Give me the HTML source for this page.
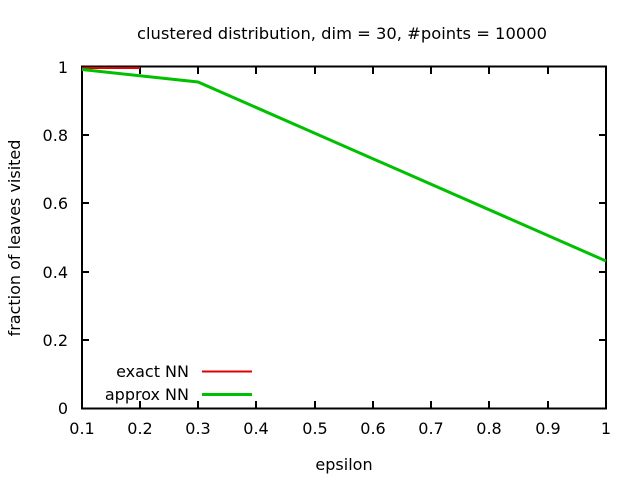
<!DOCTYPE html>
<html><head><style>
html,body{margin:0;padding:0;background:#fff;}
svg{display:block;}
text{font-family:"DejaVu Sans",sans-serif;font-size:16px;fill:#000;}
</style></head><body>
<svg width="640" height="480" xmlns="http://www.w3.org/2000/svg">
<rect width="640" height="480" fill="#fff"/>
<text x="342" y="39" text-anchor="middle" textLength="410" lengthAdjust="spacingAndGlyphs">clustered distribution, dim = 30, #points = 10000</text>
<g stroke="#000" stroke-width="2" fill="none">
<rect x="82" y="66.5" width="524" height="342"/>
<path d="M140,408v-7M140,67v7M198,408v-7M198,67v7M256,408v-7M256,67v7M315,408v-7M315,67v7M373,408v-7M373,67v7M431,408v-7M431,67v7M489,408v-7M489,67v7M548,408v-7M548,67v7"/>
<path d="M82,340h7M606,340h-7M82,272h7M606,272h-7M82,203h7M606,203h-7M82,135h7M606,135h-7"/>
</g>
<g text-anchor="end">
<text x="68" y="414">0</text>
<text x="68" y="346">0.2</text>
<text x="68" y="278">0.4</text>
<text x="68" y="209">0.6</text>
<text x="68" y="141">0.8</text>
<text x="68" y="73">1</text>
</g>
<g text-anchor="middle">
<text x="82" y="434">0.1</text>
<text x="140" y="434">0.2</text>
<text x="198" y="434">0.3</text>
<text x="256" y="434">0.4</text>
<text x="315" y="434">0.5</text>
<text x="373" y="434">0.6</text>
<text x="431" y="434">0.7</text>
<text x="489" y="434">0.8</text>
<text x="548" y="434">0.9</text>
<text x="606" y="434">1</text>
<text x="344" y="470">epsilon</text>
</g>
<text transform="translate(20,238) rotate(-90)" text-anchor="middle">fraction of leaves visited</text>
<text x="189" y="377" text-anchor="end">exact NN</text>
<text x="189" y="400" text-anchor="end">approx NN</text>
<path d="M202,371.5H252" stroke="#e00000" stroke-width="2"/>
<path d="M202,394.5H252" stroke="#00c000" stroke-width="3"/>
<path d="M82,68H140" stroke="#e00000" stroke-width="2"/>
<polyline points="82,69.5 198,82 606,261" fill="none" stroke="#00c000" stroke-width="3"/>
</svg>
</body></html>
